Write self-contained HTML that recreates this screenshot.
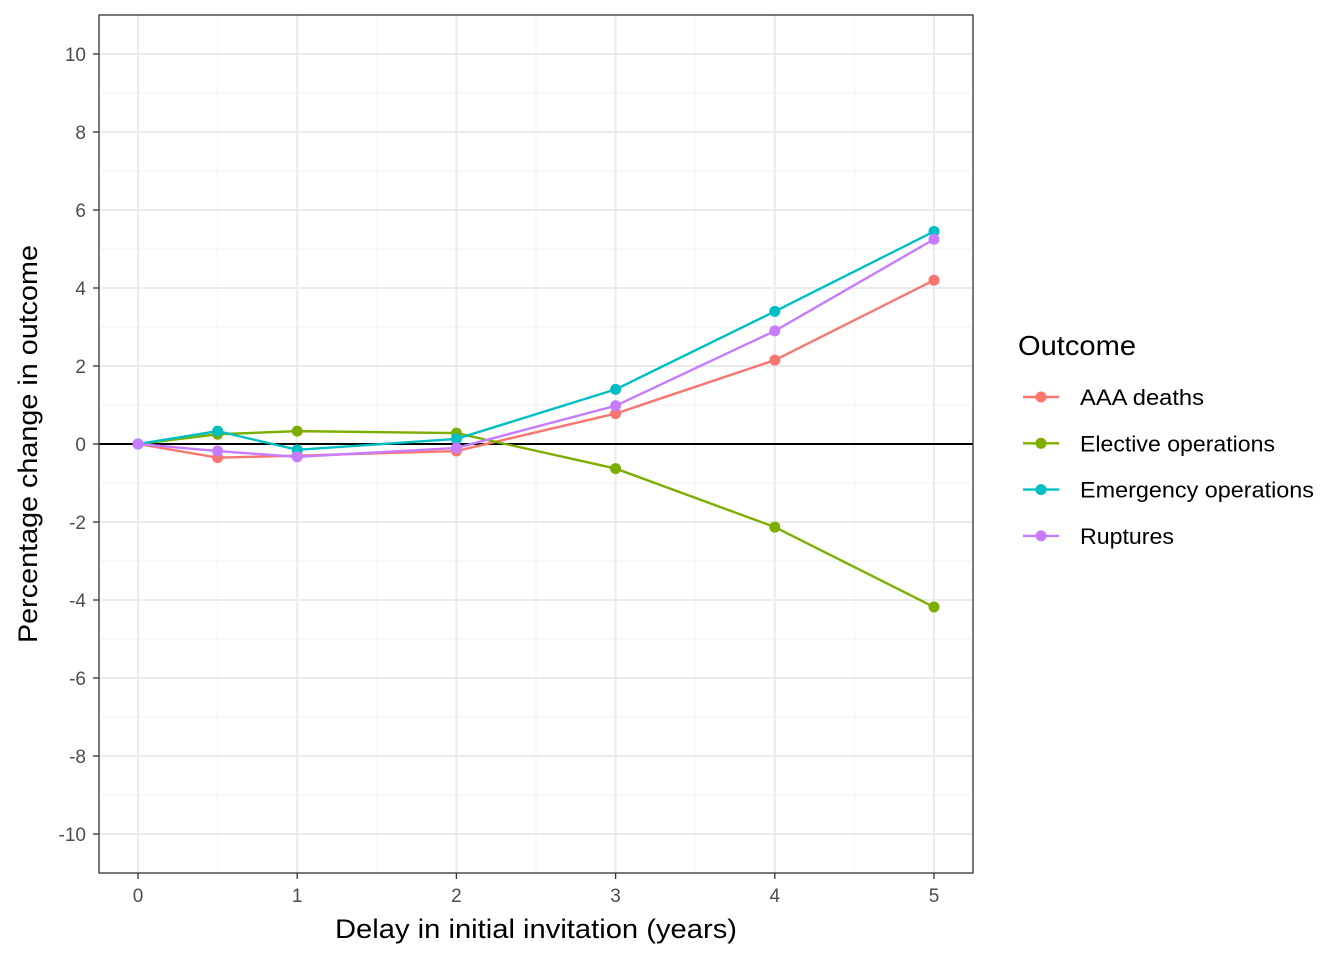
<!DOCTYPE html>
<html><head><meta charset="utf-8"><style>
body{margin:0;background:#fff;}
svg{display:block;font-family:"Liberation Sans",Arial,sans-serif;}
</style></head><body>
<svg id="chart" width="1344" height="960" xmlns="http://www.w3.org/2000/svg"></svg>
<script>
const xValues = [0, 0.5, 1, 2, 3, 4, 5];
const seriesNames = ["AAA deaths", "Elective operations", "Emergency operations", "Ruptures"];
const seriesColors = ["#F8766D", "#7CAE00", "#00BFC4", "#C77CFF"];
const aaaDeaths = [0, -0.35, -0.3, -0.18, 0.78, 2.15, 4.2];
const electiveOps = [0, 0.25, 0.33, 0.28, -0.63, -2.13, -4.18];
const emergencyOps = [0, 0.33, -0.15, 0.13, 1.4, 3.4, 5.45];
const ruptures = [0, -0.18, -0.33, -0.1, 0.98, 2.9, 5.25];
const xTicks = [0, 1, 2, 3, 4, 5];
const xMinor = [0.5, 1.5, 2.5, 3.5, 4.5];
const yTicks = [-10, -8, -6, -4, -2, 0, 2, 4, 6, 8, 10];
const yMinor = [-11, -9, -7, -5, -3, -1, 1, 3, 5, 7, 9, 11];

const allSeries = [aaaDeaths, electiveOps, emergencyOps, ruptures];
const L = 99, R = 973, T = 15, B = 873;
const xs = v => 138 + v * 159.2;
const ys = v => 444 - v * 39;
const svg = document.getElementById('chart');
const NS = "http://www.w3.org/2000/svg";
function mk(tag, attrs, parent) {
  const e = document.createElementNS(NS, tag);
  for (const k in attrs) e.setAttribute(k, attrs[k]);
  (parent || svg).appendChild(e);
  return e;
}
const grid = mk('g', {});


xMinor.forEach(v => mk('line', {x1: xs(v), x2: xs(v), y1: T, y2: B, stroke: '#f2f2f2', 'stroke-width': 1}, grid));
yMinor.forEach(v => { if (ys(v) > T && ys(v) < B) mk('line', {x1: L, x2: R, y1: ys(v), y2: ys(v), stroke: '#f2f2f2', 'stroke-width': 1}, grid); });
xTicks.forEach(v => mk('line', {x1: xs(v), x2: xs(v), y1: T, y2: B, stroke: '#ebebeb', 'stroke-width': 2}, grid));
yTicks.forEach(v => mk('line', {x1: L, x2: R, y1: ys(v), y2: ys(v), stroke: '#ebebeb', 'stroke-width': 2}, grid));
const zl = mk('line', {x1: L, x2: R, y1: ys(0), y2: ys(0), stroke: '#000', 'stroke-width': 2});



allSeries.forEach((s, i) => {
  const g = mk('g', {});
  
  
  mk('polyline', {points: s.map((v, j) => xs(xValues[j]) + ',' + ys(v)).join(' '), fill: 'none', stroke: seriesColors[i], 'stroke-width': 2.4}, g);
  s.forEach((v, j) => {
    const c = mk('circle', {cx: xs(xValues[j]), cy: ys(v), r: 5.5, fill: seriesColors[i]}, g);
    
    
  });
});
const frame = mk('rect', {x: L, y: T, width: R - L, height: B - T, fill: 'none', stroke: '#333', 'stroke-width': 1.3});



xTicks.forEach(v => {
  mk('line', {x1: xs(v), x2: xs(v), y1: B, y2: B + 6, stroke: '#333', 'stroke-width': 1.3});
  const t = mk('text', {x: xs(v), y: B + 29, 'text-anchor': 'middle', 'font-size': 19, fill: '#4d4d4d'});
  t.textContent = v;
  
  
});
yTicks.forEach(v => {
  mk('line', {x1: L - 6, x2: L, y1: ys(v), y2: ys(v), stroke: '#333', 'stroke-width': 1.3});
  const t = mk('text', {x: L - 13, y: ys(v) + 7, 'text-anchor': 'end', 'font-size': 19, fill: '#4d4d4d'});
  t.textContent = v;
  
  
});
const xt = mk('text', {x: 335, y: 938, 'font-size': 27, fill: '#000', textLength: 402, lengthAdjust: 'spacingAndGlyphs'});
xt.textContent = 'Delay in initial invitation (years)';


const yt = mk('text', {x: -199, y: 0, 'font-size': 27, fill: '#000', transform: 'translate(37,444) rotate(-90)', textLength: 398, lengthAdjust: 'spacingAndGlyphs'});
yt.textContent = 'Percentage change in outcome';



const lg = mk('g', {});


const lt = mk('text', {x: 1018, y: 355, 'font-size': 28, fill: '#000', textLength: 118, lengthAdjust: 'spacingAndGlyphs'}, lg);
lt.textContent = 'Outcome';


const legendWidths = [124, 195, 234, 94];
seriesNames.forEach((n, i) => {
  const y = 397 + i * 46.3;
  const e = mk('g', {}, lg);
  
  
  mk('line', {x1: 1023, x2: 1059, y1: y, y2: y, stroke: seriesColors[i], 'stroke-width': 2.4}, e);
  mk('circle', {cx: 1041, cy: y, r: 5.5, fill: seriesColors[i]}, e);
  const t = mk('text', {x: 1080, y: y + 8, 'font-size': 22, fill: '#000', textLength: legendWidths[i], lengthAdjust: 'spacingAndGlyphs'}, e);
  t.textContent = n;
});
</script>
</body></html>
